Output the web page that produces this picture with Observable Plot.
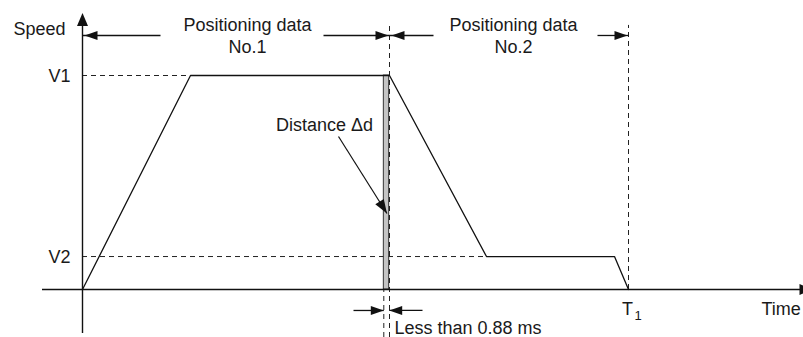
<!DOCTYPE html>
<html><head><meta charset="utf-8">
<script src="https://cdn.jsdelivr.net/npm/d3@7"></script>
<script src="https://cdn.jsdelivr.net/npm/@observablehq/plot@0.6"></script>
<style>html,body{margin:0;padding:0;background:#fff;} svg{display:block}</style>
</head><body><div id="chart"></div>
<script>
// ---- data (time in arbitrary units, speed in % of V1) ----
const profileTime  = [0, 10.8, 30.7, 40.4, 53.2, 54.6];
const profileSpeed = [0, 100, 100, 15.4, 15.4, 0];
const levelNames = ["V1", "V2"];
const levelSpeeds = [100, 15.4];
const levelMeetTime = [10.8, 40.4];
const boundaryTimes = [30.7, 54.6];       // end of No.1, T1
const stripTimes = [30.13, 30.67];        // distance Δd strip (< 0.88 ms)
const segmentNames = ["Positioning data\nNo.1", "Positioning data\nNo.2"];
const segmentStart = [0, 30.7];
const segmentEnd = [30.7, 54.6];
const segmentLabelTime = [16.5, 43.1];
const segmentTailLeft = [7.8, 35.1];
const segmentTailRight = [24.1, 51.5];
const axisNames = ["Speed", "Time"];
const t1Name = ["T", "1"];
const stripNote = "Less than 0.88 ms";
const distanceNote = "Distance Δd";

// ---- layout (in data units) ----
const W = 803, H = 337;
const xDom = [-8.2, 72.1], yDom = [-22.43, 135.05];
const pxT = W / (xDom[1] - xDom[0]), pxV = H / (yDom[1] - yDom[0]);
const L = {
  xAxis: [-4, 73], yAxis: [-20.6, 129.2],
  headerArrowV: 118.7, headerTextV: 110.7, boundaryTopV: 123.4,
  speedLabel: {t: -1.7, v: 118.7}, timeLabel: {t: 67.9, v: -12.1},
  t1V: -12.1, noteArrowV: -9.8, noteV: -20.7, noteT: 31.2,
  noteTailLeft: 27.1, noteTailRight: 34.0,
  distText: {t: 24.2, v: 74.3}, distTail: {t: 25.6, v: 71.5}, distTip: {t: 30.45, v: 35.5}
};

function head(angleDeg, len = 13, half = 4.5) {
  const a = angleDeg * Math.PI / 180, c = Math.cos(a), s = Math.sin(a);
  const pts = [[0, 0], [-len, -half], [-len, half]].map(([x, y]) => [x * c - y * s, x * s + y * c]);
  return {draw(ctx) { ctx.moveTo(pts[0][0], pts[0][1]); ctx.lineTo(pts[1][0], pts[1][1]); ctx.lineTo(pts[2][0], pts[2][1]); ctx.closePath(); }};
}

const profile = profileTime.map((t, i) => ({t, v: profileSpeed[i]}));
const levels = levelNames.map((name, i) => ({name, v: levelSpeeds[i], t0: 0, t1: levelMeetTime[i]}));
const verticals = [
  {t: boundaryTimes[0], v1: yDom[0], v2: L.boundaryTopV},
  {t: boundaryTimes[1], v1: 0, v2: L.boundaryTopV},
  {t: stripTimes[0], v1: yDom[0], v2: 0}
];
const strip = [{t1: stripTimes[0], t2: stripTimes[1], v1: 0, v2: levelSpeeds[0]}];
const segs = segmentNames.map((name, i) => ({name, s: segmentStart[i], e: segmentEnd[i], c: segmentLabelTime[i], tl: segmentTailLeft[i], tr: segmentTailRight[i]}));

const headerLinks = segs.flatMap(d => [{x1: d.tl, x2: d.s}, {x1: d.tr, x2: d.e}]).map(d => ({...d, y: L.headerArrowV}));
const noteLinks = [{x1: L.noteTailLeft, x2: stripTimes[0]}, {x1: L.noteTailRight, x2: stripTimes[1]}].map(d => ({...d, y: L.noteArrowV}));

const distAngle = Math.atan2(-(L.distTip.v - L.distTail.v) * pxV, (L.distTip.t - L.distTail.t) * pxT) * 180 / Math.PI;

const font = "'Liberation Sans', Arial, Helvetica, sans-serif";
const txt = {fontSize: 18, fill: "#1a1a1a", fontFamily: font};

const plot = Plot.plot({
  width: W, height: H,
  marginTop: 0, marginRight: 0, marginBottom: 0, marginLeft: 0,
  x: {domain: xDom, axis: null},
  y: {domain: yDom, axis: null},
  style: {background: "#fff", fontFamily: font},
  marks: [
    // dashed guides
    Plot.ruleY(levels, {y: "v", x1: "t0", x2: "t1", stroke: "#222", strokeWidth: 1, strokeDasharray: "5,4"}),
    // gray strip
    Plot.rect(strip, {x1: "t1", x2: "t2", y1: "v1", y2: "v2", fill: "#c4c4c4", stroke: "#222", strokeWidth: 0.9}),
    Plot.ruleX(verticals, {x: "t", y1: "v1", y2: "v2", stroke: "#222", strokeWidth: 1, strokeDasharray: "5,4"}),
    // axes
    Plot.ruleY([0], {x1: L.xAxis[0], x2: L.xAxis[1], stroke: "#111", strokeWidth: 1.4}),
    Plot.ruleX([0], {y1: L.yAxis[0], y2: L.yAxis[1] - 4, stroke: "#111", strokeWidth: 1.4}),
    Plot.dot([{t: 0, v: L.yAxis[1]}], {x: "t", y: "v", symbol: head(-90, 13, 5.5), fill: "#111", stroke: "none"}),
    Plot.dot([{t: L.xAxis[1], v: 0}], {x: "t", y: "v", symbol: head(0, 13, 5.5), fill: "#111", stroke: "none"}),
    // speed profile
    Plot.line(profile, {x: "t", y: "v", stroke: "#111", strokeWidth: 1.3}),
    // header dimension arrows
    Plot.link(headerLinks, {x1: "x1", x2: "x2", y1: "y", y2: "y", stroke: "#111", strokeWidth: 1.3}),
    Plot.dot(segs, {x: "s", y: () => L.headerArrowV, dx: 2, symbol: head(180), fill: "#111", stroke: "none"}),
    Plot.dot(segs, {x: "e", y: () => L.headerArrowV, dx: -1, symbol: head(0), fill: "#111", stroke: "none"}),
    Plot.text(segs, {x: "c", y: () => L.headerTextV, text: "name", lineAnchor: "bottom", lineHeight: 1.22, ...txt}),
    // bottom note arrows
    Plot.link(noteLinks, {x1: "x1", x2: "x2", y1: "y", y2: "y", stroke: "#111", strokeWidth: 1.3}),
    Plot.dot([stripTimes[0]], {x: d => d, y: () => L.noteArrowV, symbol: head(0), fill: "#111", stroke: "none"}),
    Plot.dot([stripTimes[1]], {x: d => d, y: () => L.noteArrowV, symbol: head(180), fill: "#111", stroke: "none"}),
    Plot.text([stripNote], {x: () => L.noteT, y: () => L.noteV, text: d => d, textAnchor: "start", lineAnchor: "bottom", ...txt}),
    // distance annotation
    Plot.link([L], {x1: d => d.distTail.t, y1: d => d.distTail.v, x2: d => d.distTip.t, y2: d => d.distTip.v, stroke: "#111", strokeWidth: 1.2}),
    Plot.dot([L.distTip], {x: "t", y: "v", symbol: head(distAngle, 14, 5), fill: "#111", stroke: "none"}),
    Plot.text([distanceNote], {x: () => L.distText.t, y: () => L.distText.v, text: d => d, lineAnchor: "bottom", ...txt}),
    // level labels
    Plot.text(levels, {x: "t0", y: "v", text: "name", dx: -12, dy: 1, textAnchor: "end", lineAnchor: "middle", ...txt}),
    // axis names
    Plot.text([axisNames[0]], {x: () => L.speedLabel.t, y: () => L.speedLabel.v, text: d => d, textAnchor: "end", lineAnchor: "bottom", ...txt}),
    Plot.text([axisNames[1]], {x: () => L.timeLabel.t, y: () => L.timeLabel.v, text: d => d, textAnchor: "start", lineAnchor: "bottom", ...txt}),
    // T1
    Plot.text([t1Name[0]], {x: () => boundaryTimes[1], y: () => L.t1V, text: d => d, dx: -1, textAnchor: "middle", lineAnchor: "bottom", ...txt}),
    Plot.text([t1Name[1]], {x: () => boundaryTimes[1], y: () => L.t1V, text: d => d, dx: 6, dy: 5, textAnchor: "start", lineAnchor: "bottom", ...txt, fontSize: 13})
  ]
});
document.getElementById("chart").appendChild(plot);
</script>
</body></html>
